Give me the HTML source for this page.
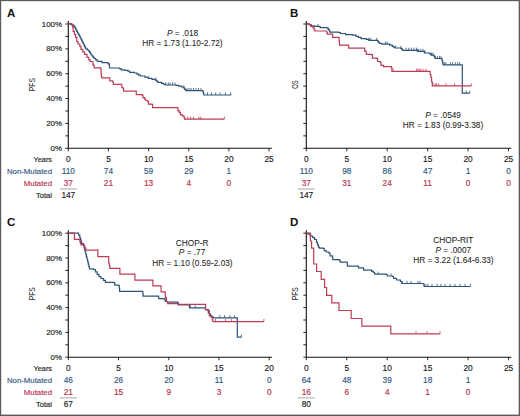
<!DOCTYPE html><html><head><meta charset="utf-8"><style>html,body{margin:0;padding:0;background:#fff;}svg{display:block;}text{font-family:"Liberation Sans", sans-serif;font-kerning:normal;}</style></head><body>
<svg width="520" height="416" viewBox="0 0 520 416">
<rect x="0" y="0" width="520" height="416" fill="#fff"/>
<path d="M68.30 21.00 V148.30 H271.85" fill="none" stroke="#111" stroke-width="1.1"/>
<path d="M65.30 148.30 H68.30" stroke="#111" stroke-width="0.9"/>
<text x="62.00" y="150.90" text-anchor="end" fill="#222" stroke="#222" stroke-width="0.16" font-size="7.9" >0%</text>
<path d="M65.30 135.87 H68.30" stroke="#111" stroke-width="0.9"/>
<path d="M65.30 123.44 H68.30" stroke="#111" stroke-width="0.9"/>
<text x="62.00" y="126.04" text-anchor="end" fill="#222" stroke="#222" stroke-width="0.16" font-size="7.9" >20%</text>
<path d="M65.30 111.01 H68.30" stroke="#111" stroke-width="0.9"/>
<path d="M65.30 98.58 H68.30" stroke="#111" stroke-width="0.9"/>
<text x="62.00" y="101.18" text-anchor="end" fill="#222" stroke="#222" stroke-width="0.16" font-size="7.9" >40%</text>
<path d="M65.30 86.15 H68.30" stroke="#111" stroke-width="0.9"/>
<path d="M65.30 73.72 H68.30" stroke="#111" stroke-width="0.9"/>
<text x="62.00" y="76.32" text-anchor="end" fill="#222" stroke="#222" stroke-width="0.16" font-size="7.9" >60%</text>
<path d="M65.30 61.29 H68.30" stroke="#111" stroke-width="0.9"/>
<path d="M65.30 48.86 H68.30" stroke="#111" stroke-width="0.9"/>
<text x="62.00" y="51.46" text-anchor="end" fill="#222" stroke="#222" stroke-width="0.16" font-size="7.9" >80%</text>
<path d="M65.30 36.43 H68.30" stroke="#111" stroke-width="0.9"/>
<path d="M65.30 24.00 H68.30" stroke="#111" stroke-width="0.9"/>
<text x="62.00" y="26.60" text-anchor="end" fill="#222" stroke="#222" stroke-width="0.16" font-size="7.9" >100%</text>
<path d="M68.30 148.30 V151.30" stroke="#111" stroke-width="0.9"/>
<path d="M108.45 148.30 V151.30" stroke="#111" stroke-width="0.9"/>
<path d="M148.60 148.30 V151.30" stroke="#111" stroke-width="0.9"/>
<path d="M188.75 148.30 V151.30" stroke="#111" stroke-width="0.9"/>
<path d="M228.90 148.30 V151.30" stroke="#111" stroke-width="0.9"/>
<path d="M269.05 148.30 V151.30" stroke="#111" stroke-width="0.9"/>
<text x="68.30" y="162.15" text-anchor="middle" fill="#222" stroke="#222" stroke-width="0.16" font-size="8.3" >0</text>
<text x="108.45" y="162.15" text-anchor="middle" fill="#222" stroke="#222" stroke-width="0.16" font-size="8.3" >5</text>
<text x="148.60" y="162.15" text-anchor="middle" fill="#222" stroke="#222" stroke-width="0.16" font-size="8.3" >10</text>
<text x="188.75" y="162.15" text-anchor="middle" fill="#222" stroke="#222" stroke-width="0.16" font-size="8.3" >15</text>
<text x="228.90" y="162.15" text-anchor="middle" fill="#222" stroke="#222" stroke-width="0.16" font-size="8.3" >20</text>
<text x="269.05" y="162.15" text-anchor="middle" fill="#222" stroke="#222" stroke-width="0.16" font-size="8.3" >25</text>
<text x="68.30" y="173.95" text-anchor="middle" fill="#33597f" stroke="#33597f" stroke-width="0.16" font-size="8.3" >110</text>
<text x="68.30" y="186.10" text-anchor="middle" fill="#b8334d" stroke="#b8334d" stroke-width="0.16" font-size="8.3" >37</text>
<text x="108.45" y="173.95" text-anchor="middle" fill="#33597f" stroke="#33597f" stroke-width="0.16" font-size="8.3" >74</text>
<text x="108.45" y="186.10" text-anchor="middle" fill="#b8334d" stroke="#b8334d" stroke-width="0.16" font-size="8.3" >21</text>
<text x="148.60" y="173.95" text-anchor="middle" fill="#33597f" stroke="#33597f" stroke-width="0.16" font-size="8.3" >59</text>
<text x="148.60" y="186.10" text-anchor="middle" fill="#b8334d" stroke="#b8334d" stroke-width="0.16" font-size="8.3" >13</text>
<text x="188.75" y="173.95" text-anchor="middle" fill="#33597f" stroke="#33597f" stroke-width="0.16" font-size="8.3" >29</text>
<text x="188.75" y="186.10" text-anchor="middle" fill="#b8334d" stroke="#b8334d" stroke-width="0.16" font-size="8.3" >4</text>
<text x="228.90" y="173.95" text-anchor="middle" fill="#33597f" stroke="#33597f" stroke-width="0.16" font-size="8.3" >1</text>
<text x="228.90" y="186.10" text-anchor="middle" fill="#b8334d" stroke="#b8334d" stroke-width="0.16" font-size="8.3" >0</text>
<path d="M59.80 189.00 H76.80" stroke="#6a6a6a" stroke-width="0.6"/>
<text x="68.30" y="197.80" text-anchor="middle" fill="#222" stroke="#222" stroke-width="0.16" font-size="8.3" >147</text>
<text x="52.00" y="162.15" text-anchor="end" fill="#222" stroke="#222" stroke-width="0.16" font-size="7.8" textLength="18.5" lengthAdjust="spacingAndGlyphs">Years</text>
<text x="52.00" y="173.95" text-anchor="end" fill="#33597f" stroke="#33597f" stroke-width="0.16" font-size="7.8" >Non-Mutated</text>
<text x="52.00" y="186.10" text-anchor="end" fill="#b8334d" stroke="#b8334d" stroke-width="0.16" font-size="7.8" >Mutated</text>
<text x="52.00" y="197.80" text-anchor="end" fill="#222" stroke="#222" stroke-width="0.16" font-size="7.8" textLength="16" lengthAdjust="spacingAndGlyphs">Total</text>
<text transform="translate(35.00,84.65) rotate(-90) scale(0.75,1)" text-anchor="middle" fill="#222" font-size="9">PFS</text>
<text x="7" y="17" font-size="11.5" font-weight="bold" fill="#111">A</text>
<path d="M306.30 21.00 V148.30 H511.35" fill="none" stroke="#111" stroke-width="1.1"/>
<path d="M303.30 148.30 H306.30" stroke="#111" stroke-width="0.9"/>
<path d="M303.30 135.87 H306.30" stroke="#111" stroke-width="0.9"/>
<path d="M303.30 123.44 H306.30" stroke="#111" stroke-width="0.9"/>
<path d="M303.30 111.01 H306.30" stroke="#111" stroke-width="0.9"/>
<path d="M303.30 98.58 H306.30" stroke="#111" stroke-width="0.9"/>
<path d="M303.30 86.15 H306.30" stroke="#111" stroke-width="0.9"/>
<path d="M303.30 73.72 H306.30" stroke="#111" stroke-width="0.9"/>
<path d="M303.30 61.29 H306.30" stroke="#111" stroke-width="0.9"/>
<path d="M303.30 48.86 H306.30" stroke="#111" stroke-width="0.9"/>
<path d="M303.30 36.43 H306.30" stroke="#111" stroke-width="0.9"/>
<path d="M303.30 24.00 H306.30" stroke="#111" stroke-width="0.9"/>
<path d="M306.30 148.30 V151.30" stroke="#111" stroke-width="0.9"/>
<path d="M346.75 148.30 V151.30" stroke="#111" stroke-width="0.9"/>
<path d="M387.20 148.30 V151.30" stroke="#111" stroke-width="0.9"/>
<path d="M427.65 148.30 V151.30" stroke="#111" stroke-width="0.9"/>
<path d="M468.10 148.30 V151.30" stroke="#111" stroke-width="0.9"/>
<path d="M508.55 148.30 V151.30" stroke="#111" stroke-width="0.9"/>
<text x="306.30" y="162.15" text-anchor="middle" fill="#222" stroke="#222" stroke-width="0.16" font-size="8.3" >0</text>
<text x="346.75" y="162.15" text-anchor="middle" fill="#222" stroke="#222" stroke-width="0.16" font-size="8.3" >5</text>
<text x="387.20" y="162.15" text-anchor="middle" fill="#222" stroke="#222" stroke-width="0.16" font-size="8.3" >10</text>
<text x="427.65" y="162.15" text-anchor="middle" fill="#222" stroke="#222" stroke-width="0.16" font-size="8.3" >15</text>
<text x="468.10" y="162.15" text-anchor="middle" fill="#222" stroke="#222" stroke-width="0.16" font-size="8.3" >20</text>
<text x="508.55" y="162.15" text-anchor="middle" fill="#222" stroke="#222" stroke-width="0.16" font-size="8.3" >25</text>
<text x="306.30" y="173.95" text-anchor="middle" fill="#33597f" stroke="#33597f" stroke-width="0.16" font-size="8.3" >110</text>
<text x="306.30" y="186.10" text-anchor="middle" fill="#b8334d" stroke="#b8334d" stroke-width="0.16" font-size="8.3" >37</text>
<text x="346.75" y="173.95" text-anchor="middle" fill="#33597f" stroke="#33597f" stroke-width="0.16" font-size="8.3" >98</text>
<text x="346.75" y="186.10" text-anchor="middle" fill="#b8334d" stroke="#b8334d" stroke-width="0.16" font-size="8.3" >31</text>
<text x="387.20" y="173.95" text-anchor="middle" fill="#33597f" stroke="#33597f" stroke-width="0.16" font-size="8.3" >86</text>
<text x="387.20" y="186.10" text-anchor="middle" fill="#b8334d" stroke="#b8334d" stroke-width="0.16" font-size="8.3" >24</text>
<text x="427.65" y="173.95" text-anchor="middle" fill="#33597f" stroke="#33597f" stroke-width="0.16" font-size="8.3" >47</text>
<text x="427.65" y="186.10" text-anchor="middle" fill="#b8334d" stroke="#b8334d" stroke-width="0.16" font-size="8.3" >11</text>
<text x="468.10" y="173.95" text-anchor="middle" fill="#33597f" stroke="#33597f" stroke-width="0.16" font-size="8.3" >1</text>
<text x="468.10" y="186.10" text-anchor="middle" fill="#b8334d" stroke="#b8334d" stroke-width="0.16" font-size="8.3" >0</text>
<text x="508.55" y="173.95" text-anchor="middle" fill="#33597f" stroke="#33597f" stroke-width="0.16" font-size="8.3" >0</text>
<text x="508.55" y="186.10" text-anchor="middle" fill="#b8334d" stroke="#b8334d" stroke-width="0.16" font-size="8.3" >0</text>
<path d="M297.80 189.00 H314.80" stroke="#6a6a6a" stroke-width="0.6"/>
<text x="306.30" y="197.80" text-anchor="middle" fill="#222" stroke="#222" stroke-width="0.16" font-size="8.3" >147</text>
<text transform="translate(297.90,84.65) rotate(-90) scale(0.62,1)" text-anchor="middle" fill="#222" font-size="9.4">OS</text>
<text x="290" y="17" font-size="11.5" font-weight="bold" fill="#111">B</text>
<path d="M68.30 230.20 V357.20 H272.00" fill="none" stroke="#111" stroke-width="1.1"/>
<path d="M65.30 357.20 H68.30" stroke="#111" stroke-width="0.9"/>
<text x="62.00" y="359.80" text-anchor="end" fill="#222" stroke="#222" stroke-width="0.16" font-size="7.9" >0%</text>
<path d="M65.30 344.80 H68.30" stroke="#111" stroke-width="0.9"/>
<path d="M65.30 332.40 H68.30" stroke="#111" stroke-width="0.9"/>
<text x="62.00" y="335.00" text-anchor="end" fill="#222" stroke="#222" stroke-width="0.16" font-size="7.9" >20%</text>
<path d="M65.30 320.00 H68.30" stroke="#111" stroke-width="0.9"/>
<path d="M65.30 307.60 H68.30" stroke="#111" stroke-width="0.9"/>
<text x="62.00" y="310.20" text-anchor="end" fill="#222" stroke="#222" stroke-width="0.16" font-size="7.9" >40%</text>
<path d="M65.30 295.20 H68.30" stroke="#111" stroke-width="0.9"/>
<path d="M65.30 282.80 H68.30" stroke="#111" stroke-width="0.9"/>
<text x="62.00" y="285.40" text-anchor="end" fill="#222" stroke="#222" stroke-width="0.16" font-size="7.9" >60%</text>
<path d="M65.30 270.40 H68.30" stroke="#111" stroke-width="0.9"/>
<path d="M65.30 258.00 H68.30" stroke="#111" stroke-width="0.9"/>
<text x="62.00" y="260.60" text-anchor="end" fill="#222" stroke="#222" stroke-width="0.16" font-size="7.9" >80%</text>
<path d="M65.30 245.60 H68.30" stroke="#111" stroke-width="0.9"/>
<path d="M65.30 233.20 H68.30" stroke="#111" stroke-width="0.9"/>
<text x="62.00" y="235.80" text-anchor="end" fill="#222" stroke="#222" stroke-width="0.16" font-size="7.9" >100%</text>
<path d="M68.30 357.20 V360.20" stroke="#111" stroke-width="0.9"/>
<path d="M118.53 357.20 V360.20" stroke="#111" stroke-width="0.9"/>
<path d="M168.75 357.20 V360.20" stroke="#111" stroke-width="0.9"/>
<path d="M218.98 357.20 V360.20" stroke="#111" stroke-width="0.9"/>
<path d="M269.20 357.20 V360.20" stroke="#111" stroke-width="0.9"/>
<text x="68.30" y="371.05" text-anchor="middle" fill="#222" stroke="#222" stroke-width="0.16" font-size="8.3" >0</text>
<text x="118.53" y="371.05" text-anchor="middle" fill="#222" stroke="#222" stroke-width="0.16" font-size="8.3" >5</text>
<text x="168.75" y="371.05" text-anchor="middle" fill="#222" stroke="#222" stroke-width="0.16" font-size="8.3" >10</text>
<text x="218.98" y="371.05" text-anchor="middle" fill="#222" stroke="#222" stroke-width="0.16" font-size="8.3" >15</text>
<text x="269.20" y="371.05" text-anchor="middle" fill="#222" stroke="#222" stroke-width="0.16" font-size="8.3" >20</text>
<text x="68.30" y="382.85" text-anchor="middle" fill="#33597f" stroke="#33597f" stroke-width="0.16" font-size="8.3" >46</text>
<text x="68.30" y="395.00" text-anchor="middle" fill="#b8334d" stroke="#b8334d" stroke-width="0.16" font-size="8.3" >21</text>
<text x="118.53" y="382.85" text-anchor="middle" fill="#33597f" stroke="#33597f" stroke-width="0.16" font-size="8.3" >26</text>
<text x="118.53" y="395.00" text-anchor="middle" fill="#b8334d" stroke="#b8334d" stroke-width="0.16" font-size="8.3" >15</text>
<text x="168.75" y="382.85" text-anchor="middle" fill="#33597f" stroke="#33597f" stroke-width="0.16" font-size="8.3" >20</text>
<text x="168.75" y="395.00" text-anchor="middle" fill="#b8334d" stroke="#b8334d" stroke-width="0.16" font-size="8.3" >9</text>
<text x="218.98" y="382.85" text-anchor="middle" fill="#33597f" stroke="#33597f" stroke-width="0.16" font-size="8.3" >11</text>
<text x="218.98" y="395.00" text-anchor="middle" fill="#b8334d" stroke="#b8334d" stroke-width="0.16" font-size="8.3" >3</text>
<text x="269.20" y="382.85" text-anchor="middle" fill="#33597f" stroke="#33597f" stroke-width="0.16" font-size="8.3" >0</text>
<text x="269.20" y="395.00" text-anchor="middle" fill="#b8334d" stroke="#b8334d" stroke-width="0.16" font-size="8.3" >0</text>
<path d="M59.80 397.90 H76.80" stroke="#6a6a6a" stroke-width="0.6"/>
<text x="68.30" y="406.70" text-anchor="middle" fill="#222" stroke="#222" stroke-width="0.16" font-size="8.3" >67</text>
<text x="52.00" y="371.05" text-anchor="end" fill="#222" stroke="#222" stroke-width="0.16" font-size="7.8" textLength="18.5" lengthAdjust="spacingAndGlyphs">Years</text>
<text x="52.00" y="382.85" text-anchor="end" fill="#33597f" stroke="#33597f" stroke-width="0.16" font-size="7.8" >Non-Mutated</text>
<text x="52.00" y="395.00" text-anchor="end" fill="#b8334d" stroke="#b8334d" stroke-width="0.16" font-size="7.8" >Mutated</text>
<text x="52.00" y="406.70" text-anchor="end" fill="#222" stroke="#222" stroke-width="0.16" font-size="7.8" textLength="16" lengthAdjust="spacingAndGlyphs">Total</text>
<text transform="translate(35.00,293.70) rotate(-90) scale(0.75,1)" text-anchor="middle" fill="#222" font-size="9">PFS</text>
<text x="7" y="226" font-size="11.5" font-weight="bold" fill="#111">C</text>
<path d="M306.30 230.20 V357.20 H511.35" fill="none" stroke="#111" stroke-width="1.1"/>
<path d="M303.30 357.20 H306.30" stroke="#111" stroke-width="0.9"/>
<path d="M303.30 344.80 H306.30" stroke="#111" stroke-width="0.9"/>
<path d="M303.30 332.40 H306.30" stroke="#111" stroke-width="0.9"/>
<path d="M303.30 320.00 H306.30" stroke="#111" stroke-width="0.9"/>
<path d="M303.30 307.60 H306.30" stroke="#111" stroke-width="0.9"/>
<path d="M303.30 295.20 H306.30" stroke="#111" stroke-width="0.9"/>
<path d="M303.30 282.80 H306.30" stroke="#111" stroke-width="0.9"/>
<path d="M303.30 270.40 H306.30" stroke="#111" stroke-width="0.9"/>
<path d="M303.30 258.00 H306.30" stroke="#111" stroke-width="0.9"/>
<path d="M303.30 245.60 H306.30" stroke="#111" stroke-width="0.9"/>
<path d="M303.30 233.20 H306.30" stroke="#111" stroke-width="0.9"/>
<path d="M306.30 357.20 V360.20" stroke="#111" stroke-width="0.9"/>
<path d="M346.75 357.20 V360.20" stroke="#111" stroke-width="0.9"/>
<path d="M387.20 357.20 V360.20" stroke="#111" stroke-width="0.9"/>
<path d="M427.65 357.20 V360.20" stroke="#111" stroke-width="0.9"/>
<path d="M468.10 357.20 V360.20" stroke="#111" stroke-width="0.9"/>
<path d="M508.55 357.20 V360.20" stroke="#111" stroke-width="0.9"/>
<text x="306.30" y="371.05" text-anchor="middle" fill="#222" stroke="#222" stroke-width="0.16" font-size="8.3" >0</text>
<text x="346.75" y="371.05" text-anchor="middle" fill="#222" stroke="#222" stroke-width="0.16" font-size="8.3" >5</text>
<text x="387.20" y="371.05" text-anchor="middle" fill="#222" stroke="#222" stroke-width="0.16" font-size="8.3" >10</text>
<text x="427.65" y="371.05" text-anchor="middle" fill="#222" stroke="#222" stroke-width="0.16" font-size="8.3" >15</text>
<text x="468.10" y="371.05" text-anchor="middle" fill="#222" stroke="#222" stroke-width="0.16" font-size="8.3" >20</text>
<text x="508.55" y="371.05" text-anchor="middle" fill="#222" stroke="#222" stroke-width="0.16" font-size="8.3" >25</text>
<text x="306.30" y="382.85" text-anchor="middle" fill="#33597f" stroke="#33597f" stroke-width="0.16" font-size="8.3" >64</text>
<text x="306.30" y="395.00" text-anchor="middle" fill="#b8334d" stroke="#b8334d" stroke-width="0.16" font-size="8.3" >16</text>
<text x="346.75" y="382.85" text-anchor="middle" fill="#33597f" stroke="#33597f" stroke-width="0.16" font-size="8.3" >48</text>
<text x="346.75" y="395.00" text-anchor="middle" fill="#b8334d" stroke="#b8334d" stroke-width="0.16" font-size="8.3" >6</text>
<text x="387.20" y="382.85" text-anchor="middle" fill="#33597f" stroke="#33597f" stroke-width="0.16" font-size="8.3" >39</text>
<text x="387.20" y="395.00" text-anchor="middle" fill="#b8334d" stroke="#b8334d" stroke-width="0.16" font-size="8.3" >4</text>
<text x="427.65" y="382.85" text-anchor="middle" fill="#33597f" stroke="#33597f" stroke-width="0.16" font-size="8.3" >18</text>
<text x="427.65" y="395.00" text-anchor="middle" fill="#b8334d" stroke="#b8334d" stroke-width="0.16" font-size="8.3" >1</text>
<text x="468.10" y="382.85" text-anchor="middle" fill="#33597f" stroke="#33597f" stroke-width="0.16" font-size="8.3" >1</text>
<text x="468.10" y="395.00" text-anchor="middle" fill="#b8334d" stroke="#b8334d" stroke-width="0.16" font-size="8.3" >0</text>
<path d="M297.80 397.90 H314.80" stroke="#6a6a6a" stroke-width="0.6"/>
<text x="306.30" y="406.70" text-anchor="middle" fill="#222" stroke="#222" stroke-width="0.16" font-size="8.3" >80</text>
<text transform="translate(297.90,293.70) rotate(-90) scale(0.75,1)" text-anchor="middle" fill="#222" font-size="9">PFS</text>
<text x="290" y="226" font-size="11.5" font-weight="bold" fill="#111">D</text>
<text x="182.6" y="36.1" text-anchor="middle" fill="#222" stroke="#222" stroke-width="0.05" font-size="8.3"><tspan font-style="italic">P</tspan> = .018</text>
<text x="182.4" y="45.6" text-anchor="middle" fill="#222" stroke="#222" stroke-width="0.05" font-size="8.3">HR = 1.73 (1.10-2.72)</text>
<text x="443.1" y="117.6" text-anchor="middle" fill="#222" stroke="#222" stroke-width="0.05" font-size="8.3"><tspan font-style="italic">P</tspan> = .0549</text>
<text x="443.0" y="127.6" text-anchor="middle" fill="#222" stroke="#222" stroke-width="0.05" font-size="8.3">HR = 1.83 (0.99-3.38)</text>
<text x="192.1" y="245.8" text-anchor="middle" fill="#222" stroke="#222" stroke-width="0.05" font-size="8.3">CHOP-R</text>
<text x="192.1" y="255.3" text-anchor="middle" fill="#222" stroke="#222" stroke-width="0.05" font-size="8.3"><tspan font-style="italic">P</tspan> = .77</text>
<text x="192.4" y="265.5" text-anchor="middle" fill="#222" stroke="#222" stroke-width="0.05" font-size="8.3">HR = 1.10 (0.59-2.03)</text>
<text x="453.4" y="243.0" text-anchor="middle" fill="#222" stroke="#222" stroke-width="0.05" font-size="8.3">CHOP-RIT</text>
<text x="453.3" y="253.1" text-anchor="middle" fill="#222" stroke="#222" stroke-width="0.05" font-size="8.3"><tspan font-style="italic">P</tspan> = .0007</text>
<text x="453.4" y="263.0" text-anchor="middle" fill="#222" stroke="#222" stroke-width="0.05" font-size="8.3">HR = 3.22 (1.64-6.33)</text>
<path d="M68.40 23.90 L71.40 23.90 L71.40 24.80 L73.20 24.80 L73.20 25.40 L74.10 25.40 L74.10 26.60 L75.00 26.60 L75.00 27.80 L75.60 27.80 L75.60 29.00 L76.20 29.00 L76.20 30.20 L76.80 30.20 L76.80 31.40 L77.40 31.40 L77.40 32.45 L78.00 32.45 L78.00 33.50 L78.60 33.50 L78.60 34.55 L79.20 34.55 L79.20 35.60 L79.80 35.60 L79.80 36.80 L80.40 36.80 L80.40 38.00 L81.00 38.00 L81.00 39.20 L81.60 39.20 L81.60 40.40 L82.20 40.40 L82.20 41.60 L82.80 41.60 L82.80 42.80 L83.40 42.80 L83.40 44.00 L84.00 44.00 L84.00 45.20 L84.60 45.20 L84.60 46.40 L85.20 46.40 L85.20 47.60 L85.80 47.60 L85.80 48.80 L87.30 48.80 L87.30 50.00 L88.80 50.00 L88.80 51.20 L89.60 51.20 L89.60 52.47 L90.40 52.47 L90.40 53.73 L91.20 53.73 L91.20 55.00 L92.20 55.00 L92.20 56.17 L93.20 56.17 L93.20 57.33 L94.20 57.33 L94.20 58.50 L95.70 58.50 L95.70 59.90 L97.20 59.90 L97.20 61.30 L102.00 61.30 L102.00 62.60 L108.10 62.60 L108.10 63.80 L109.20 63.80 L109.20 64.20 L109.50 64.20 L109.50 68.00 L119.40 68.00 L119.40 68.60 L121.20 68.60 L121.20 69.80 L124.80 69.80 L124.80 70.40 L127.90 70.40 L127.90 71.20 L129.70 71.20 L129.70 72.40 L134.50 72.40 L134.50 73.00 L136.90 73.00 L136.90 74.20 L138.70 74.20 L138.70 75.10 L140.50 75.10 L140.50 76.00 L144.80 76.00 L144.80 77.10 L148.40 77.10 L148.40 78.30 L152.00 78.30 L152.00 79.40 L155.00 79.40 L155.00 80.00 L156.20 80.00 L156.20 80.60 L157.10 80.60 L157.10 81.50 L158.00 81.50 L158.00 82.40 L161.60 82.40 L161.60 83.40 L163.40 83.40 L163.40 84.20 L165.20 84.20 L165.20 85.00 L176.00 85.00 L176.00 85.30 L178.50 85.30 L178.50 86.20 L181.50 86.20 L181.50 87.00 L183.30 87.00 L183.30 87.80 L184.60 87.80 L184.60 89.40 L185.80 89.40 L185.80 90.60 L202.60 90.60 L202.90 90.60 L202.90 91.50 L203.20 91.50 L203.20 92.40 L203.50 92.40 L203.50 93.70 L203.80 93.70 L203.80 95.00 L230.90 95.00 L230.90 95.20" fill="none" stroke="#2f5478" stroke-width="1.2" stroke-linejoin="miter"/>
<path d="M155.90 80.00 V77.40 M165.80 85.00 V82.40 M168.20 85.00 V82.40 M170.00 85.00 V82.40 M172.50 85.00 V82.40 M174.90 85.00 V82.40 M183.90 87.80 V85.20 M187.00 90.60 V88.00 M189.00 90.60 V88.00 M191.00 90.60 V88.00 M193.50 90.60 V88.00 M196.00 90.60 V88.00 M198.50 90.60 V88.00 M201.00 90.60 V88.00 M207.50 95.00 V92.40 M211.50 95.00 V92.40 M215.70 95.00 V92.40 M220.00 95.00 V92.40 M225.50 95.00 V92.40 M230.60 95.00 V92.40 " stroke="#2f5478" stroke-width="0.8" fill="none"/>
<path d="M68.40 23.90 L72.00 23.90 L72.00 24.80 L72.60 24.80 L72.60 27.20 L73.20 27.20 L73.20 31.40 L74.40 31.40 L74.40 34.40 L75.60 34.40 L75.60 37.40 L76.80 37.40 L76.80 41.60 L78.00 41.60 L78.00 44.00 L79.80 44.00 L79.80 46.40 L81.00 46.40 L81.00 49.40 L82.80 49.40 L82.80 51.90 L84.60 51.90 L84.60 54.30 L87.00 54.30 L87.00 57.30 L88.80 57.30 L88.80 59.70 L90.00 59.70 L90.00 61.50 L91.80 61.50 L93.00 61.50 L93.00 65.10 L94.20 65.10 L94.20 67.80 L100.30 67.80 L100.80 67.80 L100.80 70.00 L101.10 70.00 L101.10 73.60 L101.40 73.60 L101.40 77.20 L102.00 77.20 L102.00 77.80 L109.20 77.80 L109.80 77.80 L109.80 80.80 L112.80 80.80 L112.80 82.00 L113.40 82.00 L113.40 84.40 L121.20 84.40 L121.80 84.40 L121.80 87.50 L123.00 87.50 L123.00 88.70 L123.60 88.70 L123.60 91.10 L135.70 91.10 L136.30 91.10 L136.30 94.70 L142.30 94.70 L142.30 95.30 L142.90 95.30 L142.90 97.70 L144.70 97.70 L144.70 98.90 L145.40 98.90 L145.40 100.00 L146.00 100.00 L146.00 100.50 L147.80 100.50 L147.80 101.70 L148.40 101.70 L148.40 104.10 L152.00 104.10 L152.00 104.70 L152.60 104.70 L152.60 107.70 L177.30 107.70 L177.90 107.70 L177.90 110.70 L179.20 110.70 L179.20 112.30 L180.40 112.30 L180.40 114.70 L182.20 114.70 L182.20 115.90 L184.00 115.90 L184.00 117.70 L184.60 117.70 L184.60 119.20 L224.30 119.20" fill="none" stroke="#bd3d58" stroke-width="1.2" stroke-linejoin="miter"/>
<path d="M187.60 119.20 V116.60 M190.60 119.20 V116.60 M193.60 119.20 V116.60 M199.00 119.20 V116.60 M200.80 119.20 V116.60 M224.30 119.20 V116.60 " stroke="#bd3d58" stroke-width="0.8" fill="none"/>
<path d="M306.40 23.90 L309.40 23.90 L309.40 24.60 L311.20 24.60 L311.20 25.80 L314.80 25.80 L314.80 26.40 L319.60 26.40 L319.60 26.70 L320.20 26.70 L320.20 27.60 L326.80 27.60 L326.80 27.90 L328.00 27.90 L328.00 28.80 L328.60 28.80 L328.60 29.70 L329.20 29.70 L329.20 30.60 L329.80 30.60 L329.80 32.20 L338.70 32.20 L338.70 32.50 L340.40 32.50 L340.40 33.50 L345.60 33.50 L345.60 34.70 L352.50 34.70 L352.50 35.20 L356.00 35.20 L356.00 36.40 L358.50 36.40 L358.50 37.30 L361.10 37.30 L361.10 38.70 L366.30 38.70 L366.30 39.40 L368.90 39.40 L368.90 40.40 L377.60 40.40 L377.60 41.10 L378.45 41.10 L378.45 42.25 L379.30 42.25 L379.30 43.40 L381.90 43.40 L381.90 44.20 L389.70 44.20 L389.70 45.10 L392.30 45.10 L392.30 46.30 L393.60 46.30 L393.60 47.15 L394.90 47.15 L394.90 48.00 L400.90 48.00 L400.90 48.50 L401.80 48.50 L401.80 49.40 L402.70 49.40 L402.70 50.30 L416.50 50.30 L417.40 50.30 L417.40 51.40 L422.90 51.40 L424.40 51.40 L424.40 53.00 L429.40 53.00 L429.40 53.70 L430.90 53.70 L430.90 55.20 L433.80 55.20 L433.80 55.90 L434.50 55.90 L434.50 57.20 L435.20 57.20 L435.20 58.50 L441.70 58.50 L441.70 58.80 L442.05 58.80 L442.05 60.20 L442.40 60.20 L442.40 61.60 L442.63 61.60 L442.63 62.67 L442.87 62.67 L442.87 63.73 L443.10 63.73 L443.10 64.80 L461.90 64.80 L461.90 65.00 L462.30 65.00 L462.30 93.20 L469.80 93.20" fill="none" stroke="#2f5478" stroke-width="1.2" stroke-linejoin="miter"/>
<path d="M318.00 26.40 V23.80 M368.90 40.40 V37.80 M370.70 40.40 V37.80 M376.70 40.40 V37.80 M385.40 44.20 V41.60 M387.10 44.20 V41.60 M395.70 48.00 V45.40 M400.90 48.50 V45.90 M406.10 50.30 V47.70 M408.70 50.30 V47.70 M411.30 50.30 V47.70 M413.90 50.30 V47.70 M417.40 51.40 V48.80 M416.40 50.30 V47.70 M418.60 51.40 V48.80 M420.80 51.40 V48.80 M423.00 51.40 V48.80 M425.10 53.00 V50.40 M431.60 55.20 V52.60 M433.00 55.20 V52.60 M435.20 58.50 V55.90 M437.40 58.50 V55.90 M439.50 58.50 V55.90 M441.00 58.50 V55.90 M444.60 64.80 V62.20 M446.00 64.80 V62.20 M450.40 64.80 V62.20 M452.50 64.80 V62.20 M455.40 64.80 V62.20 M457.60 64.80 V62.20 M459.70 64.80 V62.20 M466.20 93.20 V90.60 M469.80 93.20 V90.60 " stroke="#2f5478" stroke-width="0.8" fill="none"/>
<path d="M306.40 23.90 L308.80 23.90 L308.80 24.60 L310.60 24.60 L310.60 26.40 L313.00 26.40 L313.00 27.90 L314.20 27.90 L314.20 30.00 L314.80 30.00 L314.80 31.00 L326.20 31.00 L326.80 31.00 L326.80 33.00 L327.40 33.00 L327.40 34.20 L332.60 34.20 L332.60 34.70 L332.60 37.30 L338.70 37.30 L339.10 37.30 L339.10 41.20 L339.50 41.20 L339.50 45.10 L348.20 45.10 L348.70 45.10 L348.70 48.20 L363.70 48.20 L364.60 48.20 L364.60 51.10 L366.30 51.10 L366.30 54.30 L371.50 54.30 L371.50 54.60 L372.40 54.60 L372.40 58.10 L376.70 58.10 L376.70 58.40 L377.60 58.40 L377.60 61.50 L380.20 61.50 L380.20 62.40 L381.00 62.40 L381.00 65.30 L383.60 65.30 L383.60 66.70 L391.40 66.70 L391.40 67.60 L391.90 67.60 L391.90 71.30 L429.40 71.30 L430.20 71.30 L430.20 74.60 L430.90 74.60 L430.90 77.50 L431.60 77.50 L431.60 81.80 L432.30 81.80 L432.30 85.90 L471.30 85.90" fill="none" stroke="#bd3d58" stroke-width="1.2" stroke-linejoin="miter"/>
<path d="M393.10 71.30 V68.70 M416.40 71.30 V68.70 M417.90 71.30 V68.70 M419.30 71.30 V68.70 M420.80 71.30 V68.70 M422.90 71.30 V68.70 M425.80 71.30 V68.70 M433.00 85.90 V83.30 M435.20 85.90 V83.30 M436.60 85.90 V83.30 M438.80 85.90 V83.30 M446.00 85.90 V83.30 M454.70 85.90 V83.30 M462.60 85.90 V83.30 M471.30 85.90 V83.30 " stroke="#bd3d58" stroke-width="0.8" fill="none"/>
<path d="M68.40 233.20 L77.80 233.20 L78.60 233.20 L78.60 235.20 L79.80 235.20 L79.80 237.60 L80.40 237.60 L80.40 239.40 L81.00 239.40 L81.00 241.20 L81.60 241.20 L81.60 243.60 L83.40 243.60 L83.40 245.40 L84.00 245.40 L84.00 247.80 L84.60 247.80 L84.60 249.90 L85.20 249.90 L85.20 252.00 L85.80 252.00 L85.80 254.40 L86.40 254.40 L86.40 256.80 L87.00 256.80 L87.00 259.25 L87.60 259.25 L87.60 261.70 L88.20 261.70 L88.20 264.10 L88.80 264.10 L88.80 266.50 L89.40 266.50 L89.40 268.90 L93.60 268.90 L93.60 269.50 L95.40 269.50 L95.40 271.90 L97.20 271.90 L97.20 274.30 L99.00 274.30 L99.00 276.70 L101.00 276.70 L101.00 278.50 L103.50 278.50 L103.50 280.40 L105.40 280.40 L105.40 282.30 L114.20 282.30 L114.20 282.80 L114.80 282.80 L114.80 285.20 L119.00 285.20 L119.00 285.80 L119.30 285.80 L119.30 288.55 L119.60 288.55 L119.60 291.30 L142.50 291.30 L142.50 291.50 L142.80 291.50 L142.80 293.80 L143.10 293.80 L143.10 296.10 L158.10 296.10 L158.10 296.30 L158.70 296.30 L158.70 298.70 L164.10 298.70 L164.10 299.10 L165.30 299.10 L165.30 301.50 L167.30 301.50 L167.30 302.10 L177.70 302.10 L177.70 302.50 L178.30 302.50 L178.30 304.80 L189.20 304.80 L189.20 305.00 L189.50 305.00 L189.50 307.90 L204.80 307.90 L205.40 307.90 L205.40 309.60 L208.30 309.60 L208.30 310.80 L209.40 310.80 L209.40 314.20 L210.60 314.20 L210.60 316.00 L212.30 316.00 L212.30 317.10 L213.40 317.10 L213.40 317.80 L237.30 317.80 L237.30 337.10 L241.50 337.10" fill="none" stroke="#2f5478" stroke-width="1.2" stroke-linejoin="miter"/>
<path d="M190.40 307.90 V305.30 M195.20 307.90 V305.30 M219.80 317.80 V315.20 M224.60 317.80 V315.20 M229.80 317.80 V315.20 M234.50 317.80 V315.20 M241.40 337.10 V334.50 " stroke="#2f5478" stroke-width="0.8" fill="none"/>
<path d="M68.40 233.20 L74.40 233.20 L74.40 239.40 L79.00 239.40 L79.80 239.40 L79.80 241.20 L80.40 241.20 L80.40 243.60 L81.00 243.60 L81.00 244.80 L84.00 244.80 L84.00 245.40 L84.60 245.40 L84.60 247.80 L85.80 247.80 L85.80 250.20 L97.20 250.20 L97.90 250.20 L97.90 256.60 L108.10 256.60 L108.70 256.60 L108.70 262.90 L109.30 262.90 L109.30 265.30 L109.90 265.30 L109.90 268.30 L119.60 268.30 L119.60 268.40 L119.90 268.40 L119.90 274.20 L134.60 274.20 L134.60 274.40 L134.90 274.40 L134.90 280.20 L152.70 280.20 L152.70 280.40 L152.90 280.40 L152.90 285.80 L160.50 285.80 L160.50 286.20 L161.10 286.20 L161.10 291.90 L164.70 291.90 L164.70 292.20 L165.30 292.20 L165.30 297.30 L166.50 297.30 L166.50 301.50 L167.70 301.50 L167.70 303.60 L177.70 303.60 L177.70 303.80 L178.30 303.80 L178.30 304.40 L205.40 304.40 L205.60 304.40 L205.60 309.60 L207.70 309.60 L207.70 310.50 L208.30 310.50 L208.30 313.10 L209.40 313.10 L209.40 316.00 L211.10 316.00 L211.10 317.10 L212.30 317.10 L212.30 320.00 L212.90 320.00 L212.90 321.60 L263.90 321.60" fill="none" stroke="#bd3d58" stroke-width="1.2" stroke-linejoin="miter"/>
<path d="M215.50 321.60 V319.00 M225.30 321.60 V319.00 M231.60 321.60 V319.00 M263.90 321.60 V319.00 " stroke="#bd3d58" stroke-width="0.8" fill="none"/>
<path d="M306.40 233.20 L307.80 233.20 L307.80 233.80 L309.30 233.80 L309.30 234.70 L310.70 234.70 L310.70 236.20 L312.70 236.20 L312.70 237.60 L314.60 237.60 L314.60 239.50 L316.50 239.50 L316.50 242.40 L317.45 242.40 L317.45 244.80 L318.40 244.80 L318.40 247.20 L319.40 247.20 L319.40 248.20 L323.20 248.20 L323.20 248.40 L324.20 248.40 L324.20 250.60 L326.10 250.60 L326.10 252.00 L329.00 252.00 L329.00 253.20 L330.00 253.20 L330.00 255.90 L332.40 255.90 L332.40 256.40 L332.60 256.40 L332.60 258.05 L332.80 258.05 L332.80 259.70 L339.10 259.70 L339.10 260.20 L340.10 260.20 L340.10 262.10 L346.90 262.10 L347.20 262.10 L347.20 264.10 L347.50 264.10 L347.50 266.10 L357.90 266.10 L358.50 266.10 L358.50 267.90 L363.10 267.90 L363.10 268.20 L363.60 268.20 L363.60 270.20 L370.60 270.20 L371.70 270.20 L371.70 271.30 L373.40 271.30 L373.40 272.50 L374.60 272.50 L374.60 274.20 L386.10 274.20 L386.10 274.50 L387.30 274.50 L387.30 276.00 L392.50 276.00 L392.50 276.50 L393.60 276.50 L393.60 278.30 L396.50 278.30 L396.50 280.00 L397.30 280.00 L400.40 280.00 L400.40 281.50 L401.90 281.50 L401.90 283.50 L423.50 283.50 L423.85 283.50 L423.85 285.00 L424.20 285.00 L424.20 286.50 L470.40 286.50" fill="none" stroke="#2f5478" stroke-width="1.2" stroke-linejoin="miter"/>
<path d="M378.00 274.20 V271.60 M391.00 276.00 V273.40 M402.00 283.50 V280.90 M407.00 283.50 V280.90 M411.00 283.50 V280.90 M418.00 283.50 V280.90 M420.00 283.50 V280.90 M426.00 286.50 V283.90 M428.00 286.50 V283.90 M432.00 286.50 V283.90 M437.00 286.50 V283.90 M441.00 286.50 V283.90 M445.00 286.50 V283.90 M450.00 286.50 V283.90 M455.00 286.50 V283.90 M460.00 286.50 V283.90 M465.00 286.50 V283.90 M470.40 286.50 V283.90 " stroke="#2f5478" stroke-width="0.8" fill="none"/>
<path d="M306.40 233.20 L310.40 233.20 L310.40 241.00 L311.60 241.00 L311.60 248.20 L313.70 248.20 L313.70 264.00 L316.60 264.00 L316.60 271.50 L321.20 271.50 L321.20 279.40 L324.60 279.40 L324.60 287.50 L326.60 287.50 L326.60 295.40 L331.80 295.40 L331.80 302.80 L339.00 302.80 L339.00 310.50 L351.20 310.50 L351.20 318.50 L361.90 318.50 L361.90 326.20 L390.80 326.20 L390.80 333.90 L440.00 333.90" fill="none" stroke="#bd3d58" stroke-width="1.2" stroke-linejoin="miter"/>
<path d="M416.00 333.90 V331.30 M427.00 333.90 V331.30 M440.00 333.90 V331.30 " stroke="#bd3d58" stroke-width="0.8" fill="none"/>
<g fill="#5a5a5a"><rect x="0" y="0" width="520" height="1.15"/><rect x="0" y="0" width="1.2" height="416"/><rect x="518.7" y="0" width="1.3" height="416"/><rect x="0" y="414.6" width="520" height="1.4"/></g>
</svg></body></html>
